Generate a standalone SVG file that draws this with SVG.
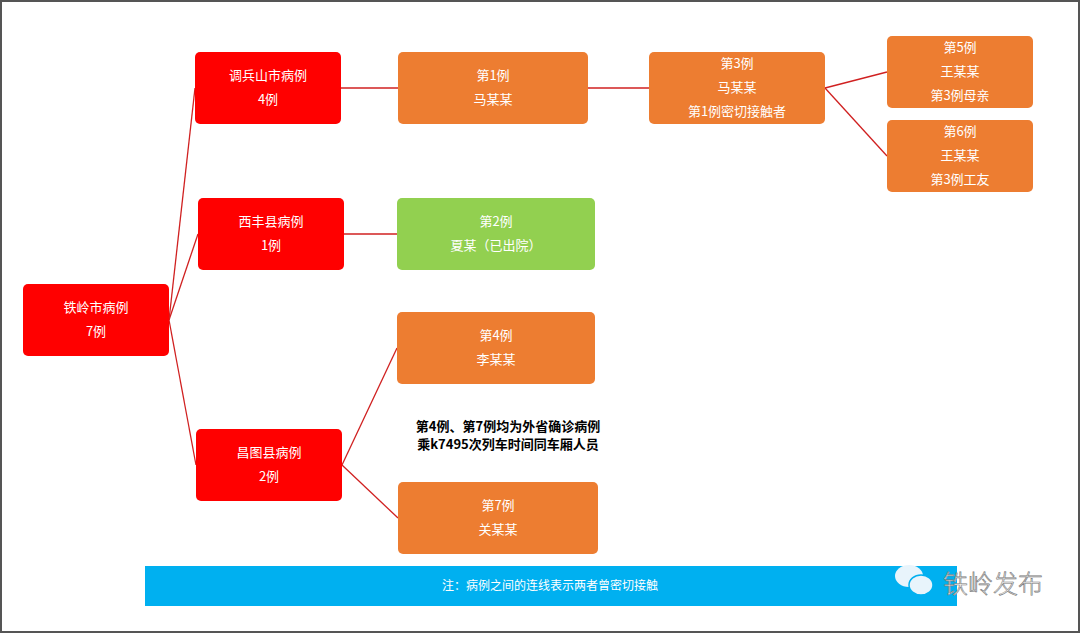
<svg xmlns="http://www.w3.org/2000/svg" width="1080" height="633" viewBox="0 0 1080 633">
<style>
text{font-family:"Noto Sans CJK SC","Liberation Sans",sans-serif;font-size:13px;text-anchor:middle}
.w{fill:#fff}
.red{fill:#ff0000}
.or{fill:#ed7d31}
.gr{fill:#92d050}
#conn line{stroke:#d02020;stroke-width:1.3}
</style>
<rect x="1" y="1" width="1078" height="631" fill="#fff" stroke="#555" stroke-width="2"/>
<g id="conn">
<line x1="169" y1="320" x2="195" y2="88"/>
<line x1="169" y1="320" x2="198" y2="234"/>
<line x1="169" y1="320" x2="196" y2="465"/>
<line x1="341" y1="88" x2="398" y2="88"/>
<line x1="344" y1="234" x2="397" y2="234"/>
<line x1="588" y1="88" x2="649" y2="88"/>
<line x1="825" y1="88" x2="887" y2="72"/>
<line x1="825" y1="88" x2="887" y2="156"/>
<line x1="342" y1="465" x2="397" y2="348"/>
<line x1="342" y1="465" x2="398" y2="518"/>
</g>
<g id="n_root"><rect class="red" x="23" y="284" width="146" height="72" rx="5"/><text class="w" x="96" y="312">铁岭市病例</text><text class="w" x="96" y="336">7例</text></g>
<g id="n_dbs"><rect class="red" x="195" y="52" width="146" height="72" rx="5"/><text class="w" x="268" y="80">调兵山市病例</text><text class="w" x="268" y="104">4例</text></g>
<g id="n_xf"><rect class="red" x="198" y="198" width="146" height="72" rx="5"/><text class="w" x="271" y="226">西丰县病例</text><text class="w" x="271" y="250">1例</text></g>
<g id="n_ct"><rect class="red" x="196" y="429" width="146" height="72" rx="5"/><text class="w" x="269" y="457">昌图县病例</text><text class="w" x="269" y="481">2例</text></g>
<g id="n_1"><rect class="or" x="398" y="52" width="190" height="72" rx="5"/><text class="w" x="493" y="80">第1例</text><text class="w" x="493" y="104">马某某</text></g>
<g id="n_3"><rect class="or" x="649" y="52" width="176" height="72" rx="5"/><text class="w" x="737" y="68">第3例</text><text class="w" x="737" y="92">马某某</text><text class="w" x="737" y="116">第1例密切接触者</text></g>
<g id="n_5"><rect class="or" x="887" y="36" width="146" height="72" rx="5"/><text class="w" x="960" y="52">第5例</text><text class="w" x="960" y="76">王某某</text><text class="w" x="960" y="100">第3例母亲</text></g>
<g id="n_6"><rect class="or" x="887" y="120" width="146" height="72" rx="5"/><text class="w" x="960" y="136">第6例</text><text class="w" x="960" y="160">王某某</text><text class="w" x="960" y="184">第3例工友</text></g>
<g id="n_2"><rect class="gr" x="397" y="198" width="198" height="72" rx="5"/><text class="w" x="496" y="226">第2例</text><text class="w" x="496" y="250">夏某（已出院）</text></g>
<g id="n_4"><rect class="or" x="397" y="312" width="198" height="72" rx="5"/><text class="w" x="496" y="340">第4例</text><text class="w" x="496" y="364">李某某</text></g>
<g id="n_7"><rect class="or" x="398" y="482" width="200" height="72" rx="5"/><text class="w" x="498" y="510">第7例</text><text class="w" x="498" y="534">关某某</text></g>
<g id="note"><text x="508" y="431" style="font-weight:bold">第4例、第7例均为外省确诊病例</text><text x="508" y="449" style="font-weight:bold">乘k7495次列车时间同车厢人员</text></g>
<g id="banner"><rect x="145" y="566" width="812" height="40" fill="#00b0f0"/><text class="w" x="550" y="590" style="font-size:12px">注：病例之间的连线表示两者曾密切接触</text></g>
<g id="wm">
<ellipse cx="909" cy="576" rx="14" ry="11" fill="#e8f4fb"/>
<ellipse cx="921" cy="585" rx="12" ry="10" fill="#e8f4fb" stroke="#00b0f0" stroke-width="1.5"/>
<text x="993" y="593" style="font-size:25px;font-weight:300" fill="#f4f4f4" stroke="#777" stroke-width="0.6">铁岭发布</text>
</g>
</svg>
